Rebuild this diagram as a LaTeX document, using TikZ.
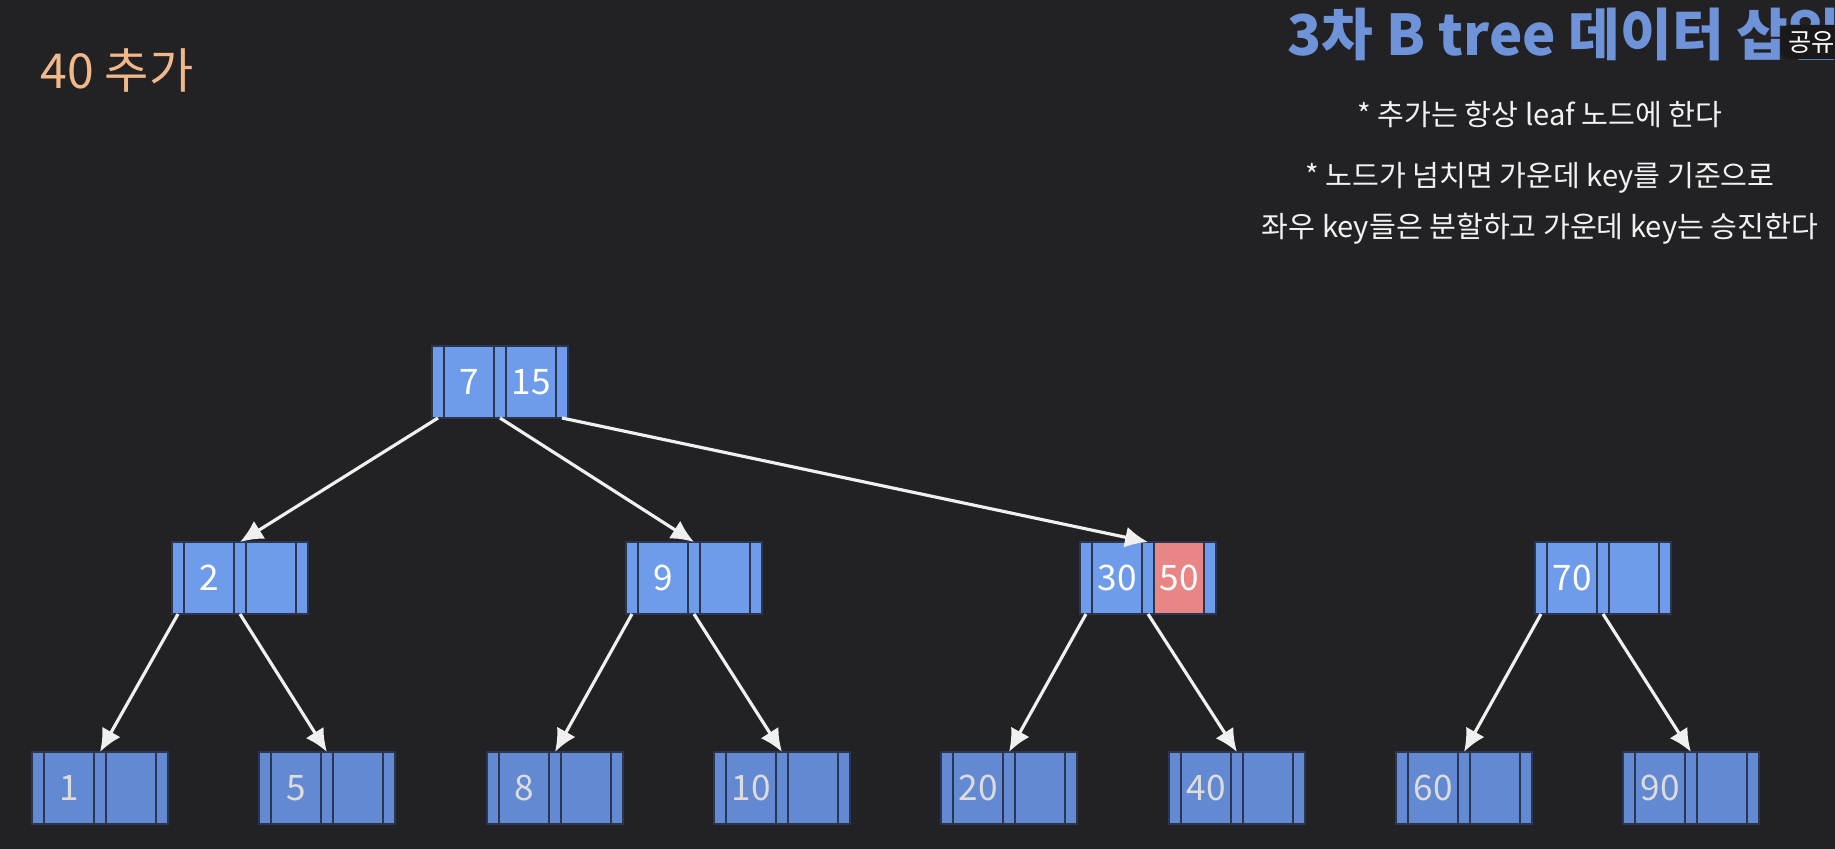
\documentclass[tikz,border=0pt]{standalone}
\usepackage{fontspec}
\newfontfamily\kr{Noto Sans CJK KR}
\usepackage{xcolor}
\usepackage{tikz}
\usetikzlibrary{arrows.meta,positioning}
\definecolor{bgdark}{HTML}{222124}
\definecolor{slotblue}{HTML}{6E9CEA}
\definecolor{leafblue}{HTML}{6289D2}
\definecolor{slotedge}{HTML}{2A3550}
\definecolor{keyred}{HTML}{E98585}
\definecolor{titleblue}{HTML}{6E93D8}
\definecolor{peach}{HTML}{F1B98A}
\definecolor{leafgrey}{HTML}{DCDCDC}
\tikzset{
  ptrslot/.style={rectangle,draw=slotedge,line width=0.6pt,fill=slotblue,minimum width=0.12cm,minimum height=0.72cm,inner sep=0pt,outer sep=0pt},
  keyslot/.style={ptrslot,minimum width=0.5cm,text=white,font=\kr\fontsize{10}{10}\selectfont},
  leafslot/.style={fill=leafblue,text=leafgrey},
  bnarrow/.style={-{Latex[length=6.5pt,width=6pt]},line width=0.9pt,draw=white!94!black},
  notetext/.style={text=white!95!black,font=\kr\fontsize{8.3}{8.3}\selectfont}
}
% one b-tree node: name, west point, key1, key2, slot style, key2 style
\newcommand{\bnode}[6]{%
  \node[ptrslot,#5,anchor=west] (#1-p0) at #2 {};
  \node[keyslot,#5,right=0pt of #1-p0] (#1-k1) {#3};
  \node[ptrslot,#5,right=0pt of #1-k1] (#1-p1) {};
  \node[keyslot,#5,#6,right=0pt of #1-p1] (#1-k2) {#4};
  \node[ptrslot,#5,right=0pt of #1-k2] (#1-p2) {};
}

\begin{document}
\begin{tikzpicture}
  \fill[bgdark] (0,0) rectangle (18.35,-8.49);
  \useasboundingbox (0,0) rectangle (18.35,-8.49);

  % headings
  \node[anchor=base west,inner sep=0pt,text=peach,font=\kr\fontsize{13.7}{13.7}\selectfont] (step) at (0.40,-0.89) {40 추가};
  \node[anchor=base west,inner sep=0pt,text=titleblue,font=\kr\bfseries\fontsize{16}{16}\selectfont] (title) at (12.87,-0.56) {3차 B tree 데이터 삽입};
  \node[fill=black!90,rounded corners=2.5pt,text=white,inner sep=0pt,minimum width=0.62cm,minimum height=0.34cm,font=\kr\fontsize{7.2}{7.2}\selectfont,anchor=west] (share) at (17.80,-0.42) {공유};
  \node[notetext] (rule1) at (15.40,-1.14) {* 추가는 항상 leaf 노드에 한다};
  \node[notetext] (rule2) at (15.40,-1.78) {* 노드가 넘치면 가운데 key를 기준으로};
  \node[notetext] (rule3) at (15.40,-2.29) {좌우 key들은 분할하고 가운데 key는 승진한다};

  % tree
  \bnode{root}{(4.32,-3.82)}{7}{15}{}{}
  \bnode{mid1}{(1.72,-5.78)}{2}{}{}{}
  \bnode{mid2}{(6.26,-5.78)}{9}{}{}{}
  \bnode{mid3}{(10.80,-5.78)}{30}{50}{}{fill=keyred}
  \bnode{mid4}{(15.35,-5.78)}{70}{}{}{}
  \bnode{leaf1}{(0.32,-7.88)}{1}{}{leafslot}{}
  \bnode{leaf2}{(2.59,-7.88)}{5}{}{leafslot}{}
  \bnode{leaf3}{(4.87,-7.88)}{8}{}{leafslot}{}
  \bnode{leaf4}{(7.14,-7.88)}{10}{}{leafslot}{}
  \bnode{leaf5}{(9.41,-7.88)}{20}{}{leafslot}{}
  \bnode{leaf6}{(11.69,-7.88)}{40}{}{leafslot}{}
  \bnode{leaf7}{(13.96,-7.88)}{60}{}{leafslot}{}
  \bnode{leaf8}{(16.23,-7.88)}{90}{}{leafslot}{}

  \draw[bnarrow] (root-p0.south) -- (mid1-p1.north);
  \draw[bnarrow] (root-p1.south) -- (mid2-p1.north);
  \draw[bnarrow] (root-p2.south) -- (mid3-p1.north);
  \draw[bnarrow] (mid1-p0.south) -- (leaf1-p1.north);
  \draw[bnarrow] (mid1-p1.south) -- (leaf2-p1.north);
  \draw[bnarrow] (mid2-p0.south) -- (leaf3-p1.north);
  \draw[bnarrow] (mid2-p1.south) -- (leaf4-p1.north);
  \draw[bnarrow] (mid3-p0.south) -- (leaf5-p1.north);
  \draw[bnarrow] (mid3-p1.south) -- (leaf6-p1.north);
  \draw[bnarrow] (mid4-p0.south) -- (leaf7-p1.north);
  \draw[bnarrow] (mid4-p1.south) -- (leaf8-p1.north);
\end{tikzpicture}
\end{document}
